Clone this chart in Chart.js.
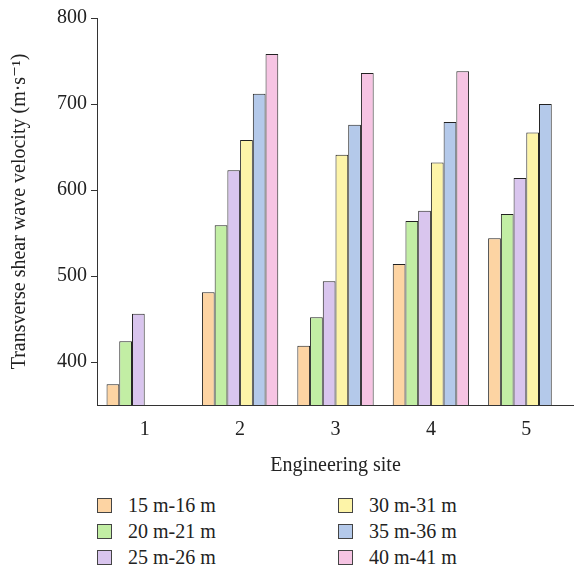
<!DOCTYPE html>
<html>
<head>
<meta charset="utf-8">
<script src="https://cdn.jsdelivr.net/npm/chart.js@4/dist/chart.umd.min.js"></script>
<style>
  body { margin: 0; background: #fff; font-family: "Liberation Serif", "DejaVu Serif", serif; }
  #wrap { position: relative; width: 574px; height: 480px; }
  #legend {
    display: grid;
    grid-template-columns: 241px 200px;
    grid-auto-flow: column;
    grid-template-rows: repeat(3, 26px);
    margin-left: 97px;
    margin-top: 12px;
    font-size: 20px;
    color: #222;
  }
  .item { display: flex; align-items: center; }
  .box { width: 13px; height: 13px; border: 1px solid #444; margin-right: 16px; }
</style>
</head>
<body>
<div id="wrap"><canvas id="chart"></canvas></div>
<div id="legend"></div>
<script>
const sites = ["1", "2", "3", "4", "5"];
const depths = ["15 m-16 m", "20 m-21 m", "25 m-26 m", "30 m-31 m", "35 m-36 m", "40 m-41 m"];
const colors = ["#fdd4a3", "#c2eea4", "#d9c5ee", "#fdf4a8", "#b4c9ea", "#f6c4e3"];

// velocity per depth, one value per site (null = no measurement)
const v15 = [374, 481, 419, 514, 544];
const v20 = [424, 559, 452, 564, 572];
const v25 = [456, 623, 494, 576, 614];
const v30 = [null, 658, 641, 632, 667];
const v35 = [null, 712, 676, 679, 700];
const v40 = [null, 758, 736, 738, null];
const yTicks = [400, 500, 600, 700, 800];

const series = [v15, v20, v25, v30, v35, v40];
const font = { family: "'Liberation Serif', 'DejaVu Serif', serif", size: 20 };

new Chart(document.getElementById("chart"), {
  type: "bar",
  data: {
    labels: sites,
    datasets: series.map((vals, i) => ({
      label: depths[i],
      data: vals,
      backgroundColor: colors[i],
      borderColor: "#222",
      borderWidth: 1,
      barPercentage: 1.0,
      categoryPercentage: 0.8,
    })),
  },
  options: {
    responsive: true,
    maintainAspectRatio: false,
    animation: false,
    layout: { padding: { top: 18, right: 0, left: 0, bottom: 0 } },
    plugins: { legend: { display: false }, tooltip: { enabled: false } },
    scales: {
      x: {
        grid: { display: false },
        border: { color: "#333", width: 1 },
        ticks: { font: font, color: "#222", padding: 5 },
        title: { display: true, text: "Engineering site", font: font, color: "#222", padding: { top: 12, bottom: 2 } },
        afterFit: (scale) => { scale.height = 75; },
      },
      y: {
        min: 350,
        max: 800,
        grid: { drawOnChartArea: false, tickLength: 6, color: "#333" },
        border: { color: "#333", width: 1 },
        ticks: { font: font, color: "#222", padding: 4 },
        afterBuildTicks: (scale) => { scale.ticks = yTicks.map((v) => ({ value: v })); },
        title: { display: true, text: "Transverse shear wave velocity (m·s⁻¹)", font: font, color: "#222", padding: { top: 8, bottom: 0 } },
        afterFit: (scale) => { scale.width = 97; },
      },
    },
  },
});

// legend, column-major like the original
const legend = document.getElementById("legend");
depths.forEach((d, i) => {
  const item = document.createElement("div");
  item.className = "item";
  item.innerHTML = '<span class="box" style="background:' + colors[i] + '"></span><span>' + d + "</span>";
  legend.appendChild(item);
});
</script>
</body>
</html>
